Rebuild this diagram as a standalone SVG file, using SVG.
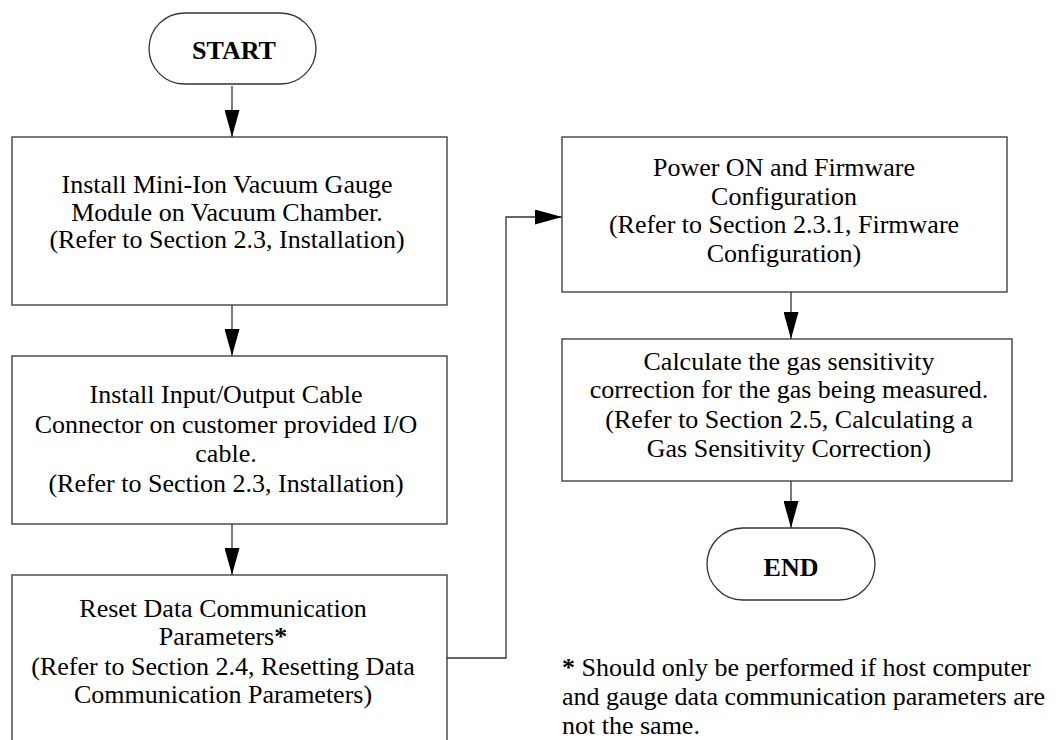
<svg xmlns="http://www.w3.org/2000/svg" width="1060" height="740" viewBox="0 0 1060 740">
<style>
.box{fill:#fff;stroke:#333;stroke-width:1.3}
.t{font-family:"Liberation Serif","Times New Roman",serif;font-size:26px;fill:#000;text-anchor:middle}
.b{font-weight:bold}
.fn{font-family:"Liberation Serif","Times New Roman",serif;font-size:26px;fill:#000}
.c{fill:none;stroke:#333;stroke-width:1.3}
</style>
<defs>
<marker id="ah" markerUnits="userSpaceOnUse" markerWidth="27" markerHeight="15" refX="27" refY="7.5" orient="auto">
<path d="M0,0 L27,7.5 L0,15 z" fill="#000"/>
</marker>
</defs>
<rect width="1060" height="740" fill="#fff"/>
<g id="connectors">
<line class="c" x1="232" y1="86" x2="232" y2="137" marker-end="url(#ah)"/>
<line class="c" x1="232" y1="305" x2="232" y2="356" marker-end="url(#ah)"/>
<line class="c" x1="232" y1="524" x2="232" y2="575" marker-end="url(#ah)"/>
<polyline class="c" points="447,658 506,658 506,217 562,217" marker-end="url(#ah)"/>
<line class="c" x1="791" y1="292" x2="791" y2="339" marker-end="url(#ah)"/>
<line class="c" x1="791" y1="481" x2="791" y2="528" marker-end="url(#ah)"/>
</g>
<g id="start">
<rect class="box" x="149" y="13" width="167" height="71" rx="35.5"/>
<text class="t b" x="234" y="59">START</text>
</g>
<g id="install-gauge">
<rect class="box" x="12" y="137" width="435" height="168"/>
<text class="t" x="227" y="193">Install Mini-Ion Vacuum Gauge</text>
<text class="t" x="227" y="221">Module on Vacuum Chamber.</text>
<text class="t" x="227" y="248">(Refer to Section 2.3, Installation)</text>
</g>
<g id="install-cable">
<rect class="box" x="12" y="356" width="435" height="168"/>
<text class="t" x="226" y="403">Install Input/Output Cable</text>
<text class="t" x="226" y="433">Connector on customer provided I/O</text>
<text class="t" x="226" y="462">cable.</text>
<text class="t" x="226" y="492">(Refer to Section 2.3, Installation)</text>
</g>
<g id="reset-params">
<rect class="box" x="12" y="575" width="435" height="200"/>
<text class="t" x="223" y="617">Reset Data Communication</text>
<text class="t" x="223" y="645">Parameters<tspan class="b">*</tspan></text>
<text class="t" x="223" y="675">(Refer to Section 2.4, Resetting Data</text>
<text class="t" x="223" y="703">Communication Parameters)</text>
</g>
<g id="power-on">
<rect class="box" x="562" y="137" width="445" height="155"/>
<text class="t" x="784" y="176">Power ON and Firmware</text>
<text class="t" x="784" y="205">Configuration</text>
<text class="t" x="784" y="233">(Refer to Section 2.3.1, Firmware</text>
<text class="t" x="784" y="262">Configuration)</text>
</g>
<g id="calculate">
<rect class="box" x="562" y="339" width="450" height="142"/>
<text class="t" x="789" y="370">Calculate the gas sensitivity</text>
<text class="t" x="789" y="398">correction for the gas being measured.</text>
<text class="t" x="789" y="428">(Refer to Section 2.5, Calculating a</text>
<text class="t" x="789" y="457">Gas Sensitivity Correction)</text>
</g>
<g id="end">
<rect class="box" x="707" y="528" width="168" height="72" rx="36"/>
<text class="t b" x="791" y="576">END</text>
</g>
<g id="footnote">
<text class="fn" x="562" y="676"><tspan font-weight="bold">*</tspan> Should only be performed if host computer</text>
<text class="fn" x="562" y="705">and gauge data communication parameters are</text>
<text class="fn" x="562" y="734">not the same.</text>
</g>
</svg>
